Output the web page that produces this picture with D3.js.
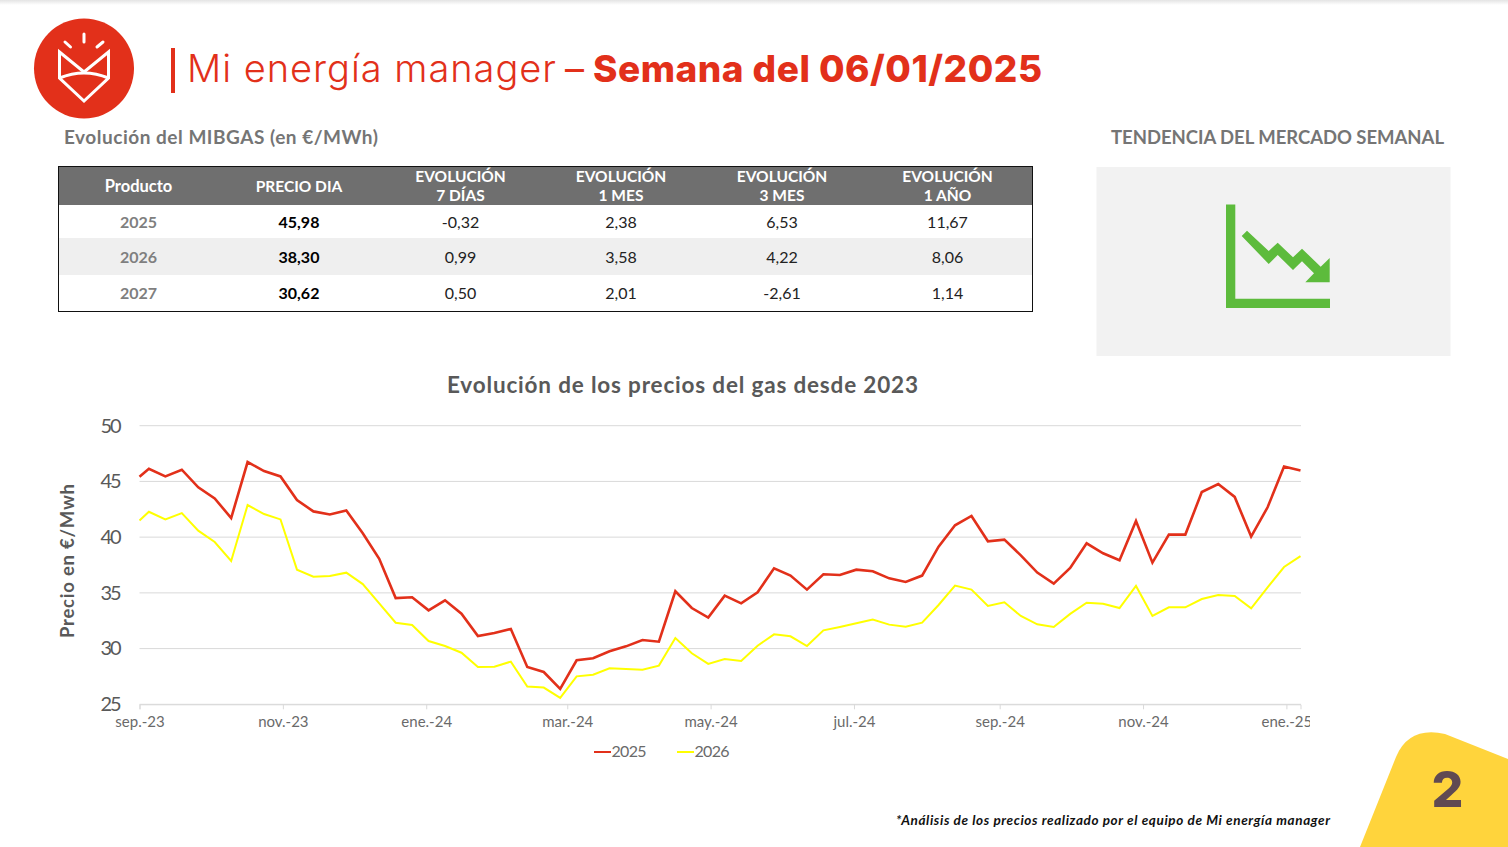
<!DOCTYPE html>
<html>
<head>
<meta charset="utf-8">
<script src="https://cdn.jsdelivr.net/npm/d3@7"></script>
<style>
body { margin: 0; background: #fff; }
svg { display: block; }
text { font-family: Lato, sans-serif; }
</style>
</head>
<body>
<div id="chart_container"></div>
<script>
// Table data
var table_head = [["Producto"], ["PRECIO DIA"], ["EVOLUCIÓN", "7 DÍAS"], ["EVOLUCIÓN", "1 MES"], ["EVOLUCIÓN", "3 MES"], ["EVOLUCIÓN", "1 AÑO"]]
var products = ["2025", "2026", "2027"]
var precio_dia = ["45,98", "38,30", "30,62"]
var evol_7d = ["-0,32", "0,99", "0,50"]
var evol_1m = ["2,38", "3,58", "2,01"]
var evol_3m = ["6,53", "4,22", "-2,61"]
var evol_1y = ["11,67", "8,06", "1,14"]

// Chart data, one value per week (the first one sits on the axis start)
var y_2025 = [45.42, 46.14, 45.45, 46.05, 44.47, 43.48, 41.71, 46.74, 45.93, 45.45, 43.33, 42.31, 42.04, 42.40, 40.34, 38.06, 34.53, 34.60, 33.43, 34.33, 33.13,
    31.13, 31.40, 31.76, 28.35, 27.90, 26.38, 28.95, 29.13, 29.76, 30.20, 30.77, 30.62, 35.14, 33.64, 32.78, 34.75, 34.06, 35.05, 37.20, 36.55, 35.29, 36.67, 36.60, 37.08, 36.94,
    36.30, 35.98, 36.55, 39.15, 41.06, 41.90, 39.63, 39.78, 38.37, 36.82, 35.83, 37.23, 39.45, 38.55, 37.92, 41.45, 37.71, 40.23, 40.23, 44.05, 44.77, 43.61, 40.05, 42.68, 46.33, 45.98]
var y_2026 = [41.50, 42.28, 41.59, 42.16, 40.58, 39.56, 37.86, 42.88, 42.07, 41.59, 37.08, 36.45, 36.51, 36.81, 35.79, 34.06, 32.32, 32.11, 30.68, 30.23, 29.63,
    28.35, 28.38, 28.83, 26.59, 26.50, 25.57, 27.51, 27.66, 28.23, 28.17, 28.11, 28.47, 30.95, 29.58, 28.62, 29.07, 28.89, 30.26, 31.28, 31.10, 30.23, 31.64, 31.94, 32.27, 32.60,
    32.15, 31.97, 32.33, 33.91, 35.65, 35.29, 33.82, 34.15, 32.93, 32.18, 31.94, 33.11, 34.12, 34.03, 33.64, 35.62, 32.93, 33.70, 33.70, 34.45, 34.81, 34.72, 33.61, 35.50, 37.32, 38.30]
var x_ticks = ["2023-09-01", "2023-11-01", "2024-01-01", "2024-03-01", "2024-05-01", "2024-07-01", "2024-09-01", "2024-11-01", "2025-01-01"]
var x_labels = ["sep.-23", "nov.-23", "ene.-24", "mar.-24", "may.-24", "jul.-24", "sep.-24", "nov.-24", "ene.-25"]
var y_ticks = [25, 30, 35, 40, 45, 50]

var red = "#e2301a"
var grey_text = "#595959"

var parse = d3.utcParse("%Y-%m-%d")
var dates = [parse("2023-09-01")].concat(d3.utcDay.range(parse("2023-09-05"), parse("2025-01-08"), 7))

var svg = d3.select("#chart_container")
    .append("svg")
    .attr("width", 1508)
    .attr("height", 847)

var defs = svg.append("defs")
var shadow = defs.append("linearGradient").attr("id", "top_shadow").attr("x2", 0).attr("y2", 1)
shadow.append("stop").attr("offset", 0).attr("stop-color", "#e4e4e4")
shadow.append("stop").attr("offset", 1).attr("stop-color", "#ffffff")
svg.append("rect").attr("width", 1508).attr("height", 5).attr("fill", "url(#top_shadow)")

// Helper for the page text
function label(x, y, str, size, weight, fill, anchor, length) {
    var t = svg.append("text")
        .attr("x", x)
        .attr("y", y)
        .style("font-size", size + "px")
        .style("font-weight", weight)
        .attr("fill", fill)
        .attr("text-anchor", anchor || "start")
        .text(str)
    if (length) t.attr("textLength", length)
    return t
}

// Logo
svg.append("circle").attr("cx", 84).attr("cy", 68.5).attr("r", 50).attr("fill", red)
var logo = svg.append("g").attr("fill", "none").attr("stroke", "#fff").attr("stroke-width", 3)
logo.append("path").attr("d", "M59.5 52 V78 L84 101 L108.5 78 V52 L84 72 Z")
logo.append("path").attr("d", "M59.5 78 Q84 68 108.5 78")
logo.append("path").attr("d", "M84 34 V42 M65 42 L70.500 47 M103 42 L97 47").attr("stroke-linecap", "round")

// Header
svg.append("rect").attr("x", 171).attr("y", 48).attr("width", 4).attr("height", 45).attr("fill", red)
label(187, 81.5, "Mi energía manager", 38, 300, red, "start", 369).style("font-family", "Inter")
label(565, 81.5, "–", 38, 400, red).style("font-family", "Inter")
label(593, 81.5, "Semana del 06/01/2025", 37, 800, red, "start", 449).style("font-family", "Inter")

label(64, 144, "Evolución del MIBGAS (en €/MWh)", 19, 700, "#757575", "start", 314)
label(1111, 144, "TENDENCIA DEL MERCADO SEMANAL", 18.5, 700, "#757575", "start", 333)

// Table
var col_x = [138.5, 299, 460.5, 621, 782, 947.5]
var row_y = [228, 263, 299]
var table_cols = [products, precio_dia, evol_7d, evol_1m, evol_3m, evol_1y]

svg.append("rect").attr("x", 58.5).attr("y", 166.5).attr("width", 974).attr("height", 38.5).attr("fill", "#6f6f6f")
svg.append("rect").attr("x", 58.5).attr("y", 238).attr("width", 974).attr("height", 37).attr("fill", "#efefef")
svg.append("rect").attr("x", 58.5).attr("y", 166.5).attr("width", 974).attr("height", 145)
    .attr("fill", "none").attr("stroke", "#111").attr("stroke-width", 1)

table_head.forEach(function(lines, c) {
    lines.forEach(function(line, l) {
        var y = lines.length == 1 ? 192 : 182 + l * 18.500
        label(col_x[c], y, line, c == 0 ? 16.5 : 15.5, 700, "#fff", "middle")
    })
})
table_cols.forEach(function(col, c) {
    col.forEach(function(val, r) {
        var weight = c < 2 ? 700 : 400
        var fill = c == 0 ? "#7f7f7f" : c == 1 ? "#000" : "#222"
        label(col_x[c], row_y[r], val, 16, weight, fill, "middle")
    })
})

// Trend box
svg.append("rect").attr("x", 1096.5).attr("y", 167).attr("width", 354).attr("height", 189).attr("fill", "#f2f2f2")
svg.append("path")
    .attr("fill", "#5dbb3c")
    .attr("d", "M1226 204.500 H1235.300 V298.700 H1330 V308 H1226 Z M1247 230.700 L1268.700 251 L1277.700 242.700 L1293 257.300 L1302 248.700 L1320.700 266.700 L1329.700 258 V282.300 H1305.300 L1314 273.300 L1302 261.300 L1293 270 L1277.700 255 L1268.700 264 L1241.700 236 Z")

// Chart
var x_scale = d3.scaleUtc()
    .domain([parse("2023-09-01"), parse("2025-01-07")])
    .range([139.5, 1300.5])
var y_scale = d3.scaleLinear()
    .domain([25, 50])
    .range([704.3, 425.7])

label(682.5, 393, "Evolución de los precios del gas desde 2023", 22.5, 700, grey_text, "middle", 471)
label(0, 0, "Precio en €/Mwh", 18.5, 700, grey_text, "middle", 154)
    .attr("transform", "translate(74,561) rotate(-90)")

var y_axis = d3.axisLeft(y_scale).tickValues(y_ticks).tickSize(0).tickPadding(18)
var y_g = svg.append("g").attr("transform", "translate(139.5,0)").call(y_axis)
y_g.select(".domain").remove()
y_g.selectAll("text").style("font-size", "20px").attr("fill", grey_text).attr("textLength", 21)

svg.append("g")
    .selectAll("line")
    .data(y_ticks)
    .enter()
    .append("line")
    .attr("x1", 139.5)
    .attr("x2", 1301)
    .attr("y1", function(d) { return y_scale(d) })
    .attr("y2", function(d) { return y_scale(d) })
    .attr("stroke", "#d9d9d9")

// Last month label is cut by the chart frame
defs.append("clipPath").attr("id", "frame").append("rect").attr("x", 60).attr("y", 400).attr("width", 1250).attr("height", 400)

var x_axis = d3.axisBottom(x_scale)
    .tickValues(x_ticks.map(parse))
    .tickFormat(function(d, i) { return x_labels[i] })
    .tickSize(5)
    .tickPadding(7)
var x_g = svg.append("g")
    .attr("clip-path", "url(#frame)")
    .append("g")
    .attr("transform", "translate(0,704.3)")
    .call(x_axis)
x_g.select(".domain").attr("stroke", "#d9d9d9")
x_g.selectAll("line").attr("stroke", "#d9d9d9")
x_g.selectAll("text").style("font-size", "15px").attr("fill", "#6a6a6a")

var line = d3.line()
    .x(function(d, i) { return x_scale(dates[i]) })
    .y(function(d) { return y_scale(d) })

svg.append("path").attr("d", line(y_2026)).attr("fill", "none").attr("stroke", "#ffff00").attr("stroke-width", 2)
svg.append("path").attr("d", line(y_2025)).attr("fill", "none").attr("stroke", red).attr("stroke-width", 2.600)

// Legend
var legend_x = [594, 677]
var legend_names = ["2025", "2026"]
var legend_colors = [red, "#ffff00"]
legend_names.forEach(function(name, i) {
    svg.append("line")
        .attr("x1", legend_x[i]).attr("x2", legend_x[i] + 17)
        .attr("y1", 752).attr("y2", 752)
        .attr("stroke", legend_colors[i])
        .attr("stroke-width", 2)
    label(legend_x[i] + 17.500, 757, name, 16, 400, "#6a6a6a", "start", 35)
})

// Page corner and footnote
svg.append("path")
    .attr("d", "M1360 847 L1396 757 Q1409 726 1445 734 L1508 759 V847 Z")
    .attr("fill", "#ffd43c")
label(1447.5, 807, "2", 50, 800, "#604a52", "middle").style("font-family", "Inter")
label(896, 825, "*Análisis de los precios realizado por el equipo de Mi energía manager", 13.5, 700, "#111", "start", 434)
    .style("font-style", "italic")
</script>
</body>
</html>
